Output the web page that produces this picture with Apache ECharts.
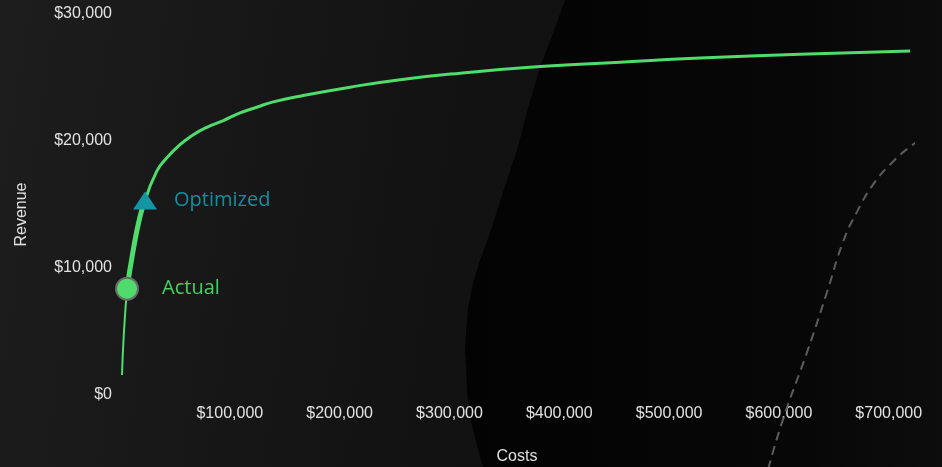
<!DOCTYPE html>
<html>
<head>
<meta charset="utf-8">
<script src="https://cdn.jsdelivr.net/npm/echarts@6/dist/echarts.min.js"></script>
<style>
    html, body { margin: 0; padding: 0; background: #151515; }
    #chart { width: 942px; height: 467px; }
</style>
</head>
<body>
<div id="chart"></div>
<script>
// #region Data
const costs = [1800, 3600, 6400, 11800, 18200, 22800, 33400, 42500, 54600, 66800, 79000, 94100, 109300, 124500, 139600, 163900,
    209500, 255000, 309700, 382500, 455400, 528200, 619300, 719500];
const revenue = [1580, 4970, 8370, 11290, 14050, 15310, 17610, 18660, 19710, 20500, 21080, 21610, 22210, 22660, 23080, 23530,
    24240, 24830, 25340, 25860, 26210, 26530, 26840, 27080];

const actualIdx = 2;
const optimizedIdx = 5;

// faint dashed reference curve (runs off the plot)
const refCosts = [590200, 603800, 625700, 643900, 658500, 671200, 685800, 701300, 722200, 744100, 751400];
const refRevenue = [-5840, -1890, 3390, 8130, 12080, 14440, 16580, 18150, 19730, 20920, 21230];

const xTicks = { min: 0, max: 723000, step: 100000 };
const yTicks = { min: 0, max: 30000, step: 10000 };
// #endregion

const pairs = (xs, ys, from, to) => xs.slice(from, to).map((x, i) => [x, ys[from + i]]);
const money = v => "$" + Math.round(v).toLocaleString("en-US");

const GREEN = "#4fdc6c";
const TEAL = "#1495a6";
const LABEL = "#e2e2e2";
const FONT = "'Liberation Sans', Arial, sans-serif";

// dark backdrop shape on the right side (decoration only)
const shadeEdge = [[565, 0], [553, 33], [540, 67], [528, 108], [517, 150], [503, 192], [490, 233], [480, 260], [473, 283], [468, 308],
    [466, 333], [465, 350], [466, 367], [467, 392], [470, 417], [476, 442], [483, 467], [942, 467], [942, 0]];

const chart = echarts.init(document.getElementById("chart"), null, { renderer: "canvas" });

const option = {
    backgroundColor: "transparent",
    animation: false,
    graphic: {
        elements: [
            {
                type: "rect", z: -10, silent: true,
                shape: { x: 0, y: 0, width: 942, height: 467 },
                style: {
                    fill: {
                        type: "linear", x: 0, y: 0, x2: 1, y2: 0.3,
                        colorStops: [
                            { offset: 0, color: "#1d1d1d" },
                            { offset: 0.5, color: "#121212" },
                            { offset: 1, color: "#101010" }
                        ]
                    }
                }
            },
            {
                type: "polygon", z: -9, silent: true,
                shape: { points: shadeEdge },
                style: {
                    fill: {
                        type: "linear", x: 0, y: 0, x2: 1, y2: 0,
                        colorStops: [
                            { offset: 0, color: "#030303" },
                            { offset: 0.7, color: "#070707" },
                            { offset: 1, color: "#0d0d0d" }
                        ]
                    }
                }
            }
        ]
    },
    grid: { left: 120, right: 28, top: 14, bottom: 72, containLabel: false, outerBoundsMode: "none" },
    xAxis: {
        type: "value",
        min: xTicks.min, max: xTicks.max, interval: xTicks.step,
        name: "Costs",
        nameLocation: "middle",
        nameGap: 54,
        nameTextStyle: { color: LABEL, fontSize: 16, fontFamily: FONT },
        axisLine: { show: false },
        axisTick: { show: false },
        splitLine: { show: false },
        axisLabel: {
            color: LABEL, fontSize: 16, fontFamily: FONT, margin: 11,
            showMinLabel: false, showMaxLabel: false,
            formatter: money
        }
    },
    yAxis: {
        type: "value",
        min: yTicks.min, max: yTicks.max, interval: yTicks.step,
        name: "Revenue",
        nameLocation: "middle",
        nameGap: 90,
        nameTextStyle: { color: LABEL, fontSize: 16, fontFamily: FONT, padding: [0, 20, 0, 0] },
        axisLine: { show: false },
        axisTick: { show: false },
        splitLine: { show: false },
        axisLabel: { color: LABEL, fontSize: 16, fontFamily: FONT, margin: 8, formatter: money }
    },
    series: [
        {
            name: "Reference",
            type: "line",
            data: pairs(refCosts, refRevenue, 0, refCosts.length),
            smooth: true,
            clip: false,
            symbol: "none",
            lineStyle: { color: "#5c5c5c", width: 2, type: [9, 6] },
            z: 1
        },
        {
            name: "Start",
            type: "line",
            data: pairs(costs, revenue, 0, actualIdx + 1),
            smooth: true,
            symbol: "none",
            lineStyle: { color: GREEN, width: 2 }
        },
        {
            name: "Gain",
            type: "line",
            data: pairs(costs, revenue, actualIdx, optimizedIdx + 1),
            smooth: true,
            symbol: "none",
            lineStyle: { color: GREEN, width: 5 }
        },
        {
            name: "Curve",
            type: "line",
            data: pairs(costs, revenue, optimizedIdx, costs.length),
            smooth: 0.5,
            symbol: "none",
            lineStyle: { color: GREEN, width: 3 }
        },
        {
            name: "Actual",
            type: "scatter",
            data: [[costs[actualIdx], revenue[actualIdx]]],
            symbol: "circle",
            symbolSize: 22,
            itemStyle: { color: GREEN, opacity: 1, borderColor: "#6a6a6a", borderWidth: 2 },
            label: {
                show: true, position: "right", distance: 23,
                formatter: "Actual",
                color: "#48cf62", fontSize: 20, fontFamily: "'Open Sans', sans-serif"
            },
            z: 5
        },
        {
            name: "Optimized",
            type: "scatter",
            data: [[costs[optimizedIdx], revenue[optimizedIdx]]],
            symbol: "triangle",
            symbolSize: [24, 18],
            itemStyle: { color: TEAL, opacity: 1 },
            label: {
                show: true, position: "right", distance: 17,
                formatter: "Optimized",
                color: "#138fa0", fontSize: 20, fontFamily: "'Open Sans', sans-serif"
            },
            z: 5
        }
    ]
};

chart.setOption(option);
</script>
</body>
</html>
